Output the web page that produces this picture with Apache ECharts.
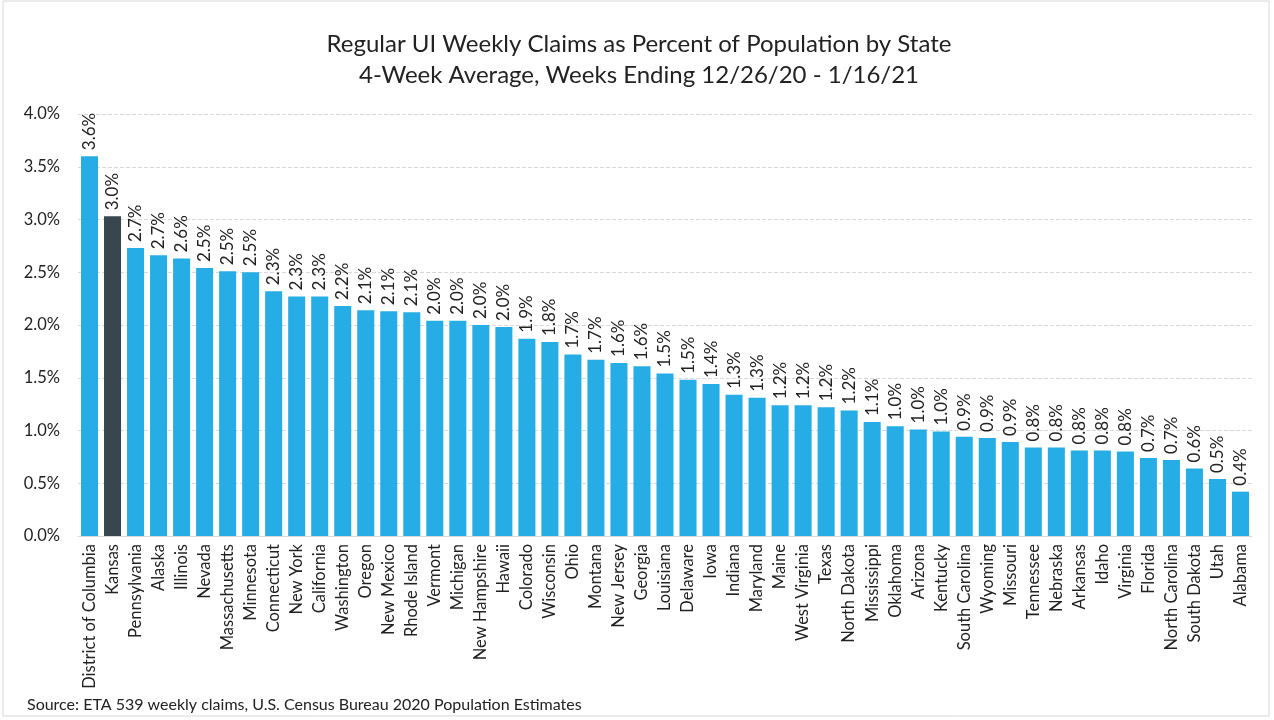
<!DOCTYPE html>
<html>
<head>
<meta charset="utf-8">
<script src="https://cdn.jsdelivr.net/npm/echarts@6/dist/echarts.min.js"></script>
<style>
html,body{margin:0;padding:0;background:#fff;}
#chart{width:1274px;height:720px;}
</style>
</head>
<body>
<div id="chart"></div>
<script>
const states = ["District of Columbia","Kansas","Pennsylvania","Alaska","Illinois","Nevada","Massachusetts","Minnesota","Connecticut","New York","California","Washington","Oregon","New Mexico","Rhode Island","Vermont","Michigan","New Hampshire","Hawaii","Colorado","Wisconsin","Ohio","Montana","New Jersey","Georgia","Louisiana","Delaware","Iowa","Indiana","Maryland","Maine","West Virginia","Texas","North Dakota","Mississippi","Oklahoma","Arizona","Kentucky","South Carolina","Wyoming","Missouri","Tennessee","Nebraska","Arkansas","Idaho","Virginia","Florida","North Carolina","South Dakota","Utah","Alabama"];
const claimsPct = [3.60,3.03,2.73,2.66,2.63,2.54,2.51,2.50,2.32,2.27,2.27,2.18,2.14,2.13,2.12,2.04,2.04,2.00,1.98,1.87,1.84,1.72,1.67,1.64,1.61,1.54,1.48,1.44,1.34,1.31,1.24,1.24,1.22,1.19,1.08,1.04,1.01,0.99,0.94,0.93,0.89,0.84,0.84,0.81,0.81,0.80,0.74,0.72,0.64,0.54,0.42];
const highlightState = "Kansas";
const yTicks = [0,0.5,1,1.5,2,2.5,3,3.5,4];
const titleLines = ["Regular UI Weekly Claims as Percent of Population by State","4-Week Average, Weeks Ending 12/26/20 - 1/16/21"];
const sourceText = "Source: ETA 539 weekly claims, U.S. Census Bureau 2020 Population Estimates";

const chart = echarts.init(document.getElementById('chart'));
const font = 'Lato, "Open Sans", sans-serif';
chart.setOption({
  backgroundColor:'#fff',
  animation:false,
  title:{
    text:titleLines.join('\n'),
    left:634, top:24, textAlign:'center',
    textStyle:{fontFamily:font,fontSize:24,fontWeight:'normal',color:'#222',lineHeight:31}
  },
  graphic:[
    {type:'rect',shape:{x:3,y:1,width:1266,height:715},style:{fill:'none',stroke:'#d8d8d8',lineWidth:1}},
    {type:'text',left:27,top:697,style:{text:sourceText,fontFamily:font,fontSize:16,fill:'#222'}}
  ],
  grid:{left:78,right:22,top:114,bottom:184},
  xAxis:{
    type:'category',
    data:states,
    axisLine:{show:true,lineStyle:{color:'#d9d9d9'}},
    axisTick:{show:false},
    axisLabel:{rotate:90,interval:0,fontFamily:font,fontSize:16.5,color:'#222',margin:8}
  },
  yAxis:{
    type:'value',min:0,max:4,interval:0.5,
    axisLine:{show:false},axisTick:{show:false},
    splitLine:{lineStyle:{color:'#d9d9d9',type:'dashed'}},
    axisLabel:{fontFamily:font,fontSize:16.5,color:'#222',margin:18,formatter:v=>v.toFixed(1)+'%'}
  },
  series:[{
    type:'bar',
    barCategoryGap:'26%',
    data:claimsPct.map((v,i)=>({value:v,itemStyle:{color:states[i]===highlightState?'#37464f':'#27ade6'}})),
    label:{show:true,position:'top',rotate:90,align:'left',verticalAlign:'middle',distance:6,
      fontFamily:font,fontSize:17,color:'#222',formatter:p=>p.value.toFixed(1)+'%'}
  }]
});
</script>
</body>
</html>
